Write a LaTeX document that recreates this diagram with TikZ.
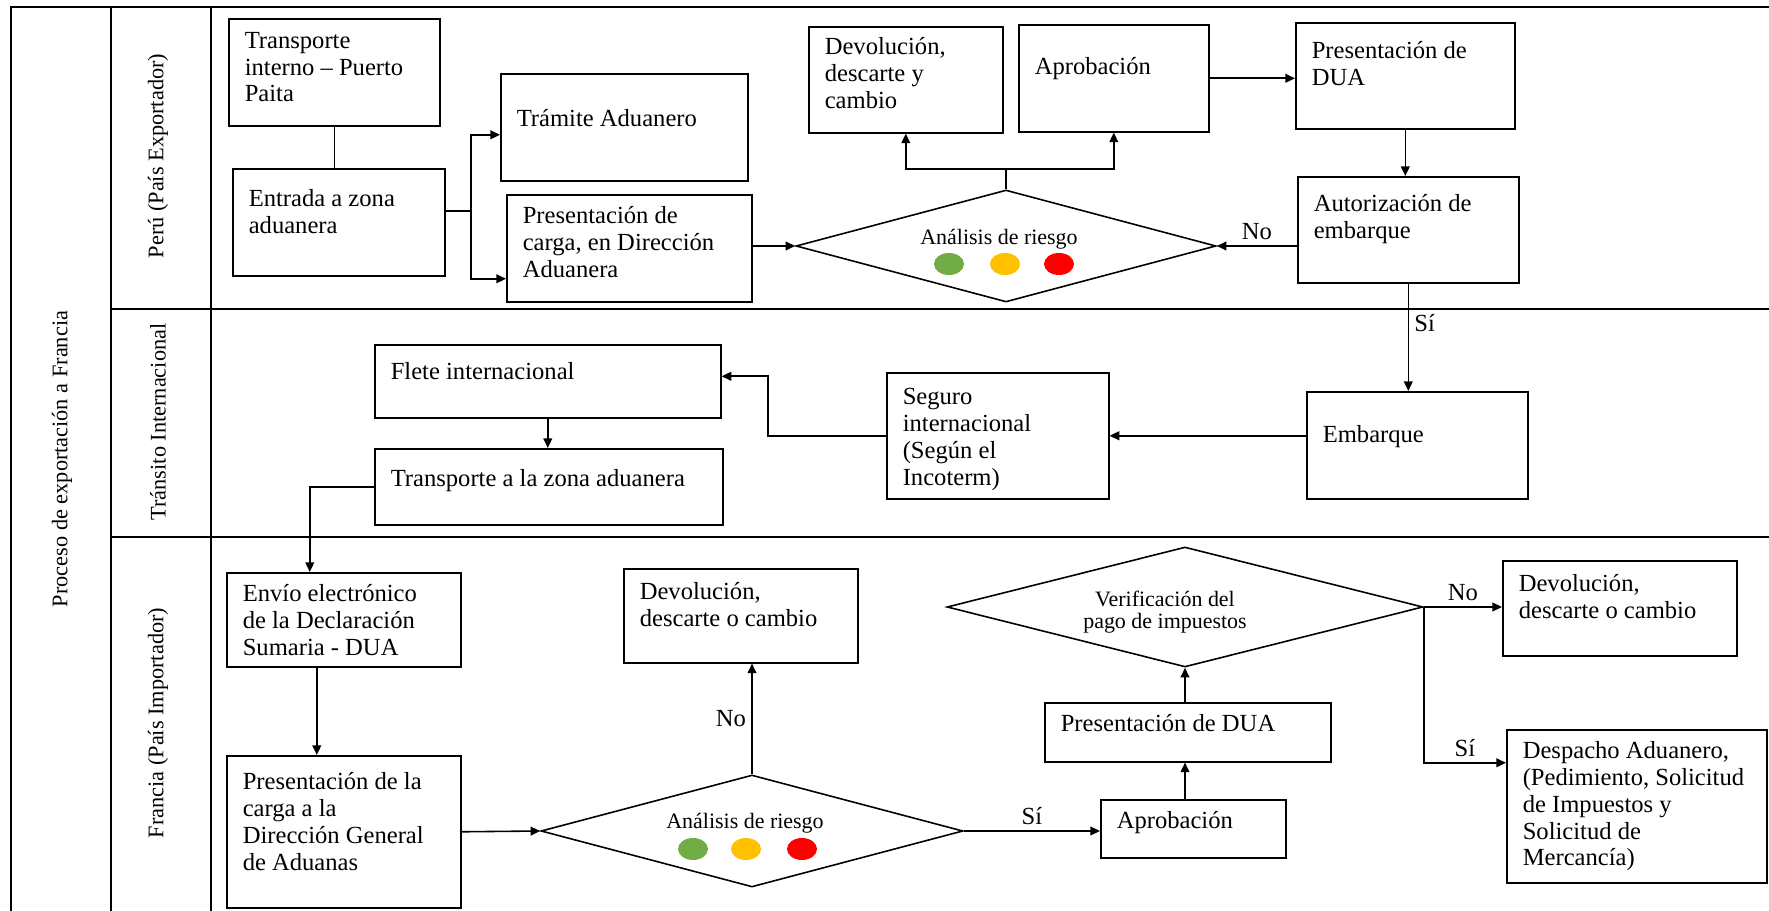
\documentclass[tikz,border=0pt]{standalone}
\usepackage{fontspec}
\setmainfont{Liberation Serif}
\usetikzlibrary{arrows.meta,shapes.geometric}
\newlength{\px}
\setlength{\px}{0.02cm}
\definecolor{verde}{RGB}{112,173,71}
\definecolor{ambar}{RGB}{255,192,0}
\definecolor{rojo}{RGB}{255,0,0}
\tikzset{
  linea/.style={line width=0.9pt},
  caja/.style n args={3}{draw, line width=0.9pt, inner sep=0pt, anchor=north west,
    font=\fontsize{14}{15.2}\selectfont,
    execute at begin node={\begin{minipage}[t][#2\px][t]{#1\px}\vspace*{#3\px}\leftskip=16\px\rightskip=0pt plus 1fil\hyphenpenalty=10000\noindent\strut},
    execute at end node={\end{minipage}}},
  rombo/.style 2 args={diamond, draw, line width=0.9pt, inner sep=0pt, minimum width=#1\px, minimum height=#2\px},
  chico/.style={font=\fontsize{12.5}{12.5}\selectfont, inner sep=0pt, align=center},
  carril/.style={rotate=90, font=\fontsize{12.7}{14}\selectfont},
  rotulo/.style={font=\fontsize{14}{15}\selectfont, inner sep=3pt},
  >={Triangle[length=5.5pt,width=5pt]},
}
\begin{document}
\begin{tikzpicture}[x=0.02cm, y=-0.02cm]
\useasboundingbox (0,0) rectangle (1769,911);
\draw[linea] (11,911) -- (11,7) -- (1769,7);
\draw[linea] (111,7) -- (111,911);
\draw[linea] (211,7) -- (211,911);
\draw[linea] (111,309) -- (1769,309);
\draw[linea] (111,537) -- (1769,537);
\node[carril] (proc) at (62,459) {Proceso de exportación a Francia};
\node[carril] (peru) at (158,156) {Perú (País Exportador)};
\node[carril] (tran) at (158,422) {Tránsito Internacional};
\node[carril] (fran) at (158,723) {Francia (País Importador)};

\node[caja={211}{107}{11}] (tin) at (228,18) {Transporte\\interno -- Puerto\\Paita};
\node[caja={212}{107}{19.5}] (ent) at (232,168) {Entrada a zona\\aduanera};
\node[caja={247}{107}{34.5}] (tra) at (500,73) {Trámite Aduanero};
\node[caja={245}{107}{10.5}] (pca) at (506,194) {Presentación de\\carga, en Dirección\\Aduanera};
\node[caja={194}{106}{9.5}] (dev1) at (808,26) {Devolución,\\descarte y\\cambio};
\node[caja={190}{107}{31.5}] (apr1) at (1018,24) {Aprobación};
\node[caja={219}{106}{17.5}] (dua1) at (1295,22) {Presentación de\\DUA};
\node[caja={221}{106}{16.5}] (aut) at (1297,176) {Autorización de\\embarque};
\node[rombo={420}{112}] (ar1) at (1006,246) {};
\node[chico] (ar1t) at (999,239) {Análisis de riesgo};
\fill[verde] (949,264) ellipse [x radius=15\px, y radius=11\px];
\fill[ambar] (1005,264) ellipse [x radius=15\px, y radius=11\px];
\fill[rojo] (1059,264) ellipse [x radius=15\px, y radius=11\px];

\node[caja={221}{107}{32.5}] (emb) at (1306,391) {Embarque};
\node[caja={222}{126}{13.5}] (seg) at (886,372) {Seguro\\internacional\\(Según el\\Incoterm)};
\node[caja={346}{73}{16.5}] (fle) at (374,344) {Flete internacional};
\node[caja={348}{76}{19.5}] (tzo) at (374,448) {Transporte a la zona aduanera};

\node[caja={234}{94}{10.5}] (env) at (226,572) {Envío electrónico\\de la Declaración\\Sumaria - DUA};
\node[caja={234}{152}{15.5}] (pcl) at (226,755) {Presentación de la\\carga a la\\Dirección General\\de Aduanas};
\node[caja={234}{94}{12.5}] (dev2) at (623,568) {Devolución,\\descarte o cambio};
\node[rombo={422}{112}] (ar2) at (752,831) {};
\node[chico] (ar2t) at (745,823) {Análisis de riesgo};
\fill[verde] (693,849) ellipse [x radius=15\px, y radius=11\px];
\fill[ambar] (746,849) ellipse [x radius=15\px, y radius=11\px];
\fill[rojo] (802,849) ellipse [x radius=15\px, y radius=11\px];
\node[caja={185}{58}{10.5}] (apr2) at (1100,799) {Aprobación};
\node[caja={286}{59}{10.5}] (dua2) at (1044,702) {Presentación de DUA};
\node[rombo={476}{120}] (ver) at (1185,607) {};
\node[chico] (vert) at (1165,612) {Verificación del\\pago de impuestos};
\node[caja={234}{95}{12.5}] (dev3) at (1502,560) {Devolución,\\descarte o cambio};
\node[caja={260}{153}{10.5}] (des) at (1506,729) {Despacho Aduanero,\\(Pedimiento, Solicitud\\de Impuestos y\\Solicitud de\\Mercancía)};

\draw[linea] (tin.south) -- (tin.south |- ent.north);
\coordinate (j1) at (471,211);
\draw[linea,->] (ent.east |- j1) -- (j1) |- ([yshift=-7.5\px]tra.west);
\draw[linea,->] (j1) |- ([yshift=-30.5\px]pca.west);
\draw[linea,->] (pca.east |- ar1.west) -- (ar1.west);
\coordinate (j2) at (1009,169);
\draw[linea] (ar1.north) -- (ar1.north |- j2);
\draw[linea,->] (ar1.north |- j2) -| (dev1.south);
\draw[linea,->] (ar1.north |- j2) -| (apr1.south);
\draw[linea,->] (apr1.east) -- (apr1.east -| dua1.west);
\draw[linea,->] (dua1.south) -- (dua1.south |- aut.north);
\draw[linea,->] (aut.west |- ar1.east) -- (ar1.east) node[rotulo, midway, above] (no1) {No};
\draw[linea,->] (aut.south) -- (aut.south |- emb.north) node[rotulo, pos=0.37, right] (si1) {Sí};

\draw[linea,->] (emb.west |- seg.east) -- (seg.east);
\draw[linea,->] (seg.west) -- ++(-118,0) |- ([yshift=5\px]fle.east);
\draw[linea,->] (fle.south) -- (fle.south |- tzo.north);
\draw[linea,->] (tzo.west) -| ([xshift=-34\px]env.north);

\draw[linea,->] ([xshift=-27\px]env.south) -- ([xshift=-27\px]env.south |- pcl.north);
\draw[linea,->] (pcl.east) -- (ar2.west);
\draw[linea,->] (ar2.north) -- (ar2.north |- dev2.south) node[rotulo, midway, left] (no2) {No};
\draw[linea,->] (ar2.east) -- (ar2.east -| apr2.west) node[rotulo, midway, above] (si2) {Sí};
\draw[linea,->] (ver |- apr2.north) -- (ver |- dua2.south);
\draw[linea,->] (ver |- dua2.north) -- (ver.south);
\draw[linea,->] (ver.east) -- (ver.east -| dev3.west) node[rotulo, midway, above] (no3) {No};
\draw[linea,->] (ver.east) |- ([yshift=43.5\px]des.west) node[rotulo, pos=0.75, above] (si3) {Sí};
\end{tikzpicture}
\end{document}
